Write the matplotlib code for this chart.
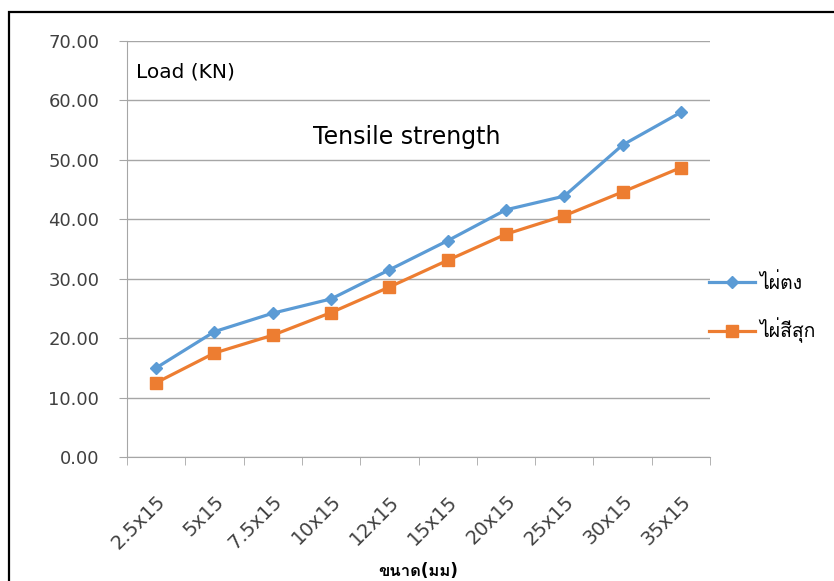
import matplotlib
matplotlib.use("Agg")
import matplotlib.pyplot as plt
from matplotlib import font_manager
from matplotlib.ft2font import FT2Font
from matplotlib.patches import Rectangle
import numpy as np

categories = ["2.5x15", "5x15", "7.5x15", "10x15", "12x15", "15x15",
              "20x15", "25x15", "30x15", "35x15"]
tong = [15.0, 21.1, 24.2, 26.6, 31.5, 36.4, 41.6, 43.9, 52.5, 58.0]
sisuk = [12.5, 17.5, 20.5, 24.3, 28.6, 33.1, 37.5, 40.6, 44.6, 48.7]
series_names = ["ไผ่ตง", "ไผ่สีสุก"]
y_ticks = [0, 10, 20, 30, 40, 50, 60, 70]


def find_thai_font():
    # look for any installed font that has Thai glyphs
    for f in font_manager.fontManager.ttflist:
        try:
            cmap = FT2Font(f.fname).get_charmap()
        except Exception:
            continue
        if 0x0E44 in cmap and 0x0E1C in cmap:
            return f.name
    return None


thai = find_thai_font()
fams = ["DejaVu Sans"]
if thai:
    fams = ["DejaVu Sans", thai]
plt.rcParams["font.family"] = fams

fig = plt.figure(figsize=(8.34, 5.81), dpi=100)
ax = fig.add_axes([0.1523, 0.2134, 0.6990, 0.7160])

x = np.arange(len(categories))
ax.plot(x, tong, color="#5B9BD5", lw=2.3, marker="D", ms=6.5, label=series_names[0])
ax.plot(x, sisuk, color="#ED7D31", lw=2.3, marker="s", ms=8, label=series_names[1])

ax.set_xlim(-0.5, len(categories) - 0.5)
ax.set_ylim(0, 70)
ax.set_yticks(y_ticks)
ax.set_yticklabels(["%.2f" % v for v in y_ticks])
ax.yaxis.grid(True, color="#A6A6A6", lw=1)
ax.set_axisbelow(True)

ax.set_xticks(x)
ax.set_xticklabels(categories, rotation=45, ha="right", rotation_mode="anchor")
ax.set_xticks(np.arange(len(categories) + 1) - 0.5, minor=True)
ax.tick_params(axis="x", which="major", length=0, pad=25, labelsize=14, labelcolor="#404040")
ax.tick_params(axis="x", which="minor", length=6, color="#A6A6A6")
ax.tick_params(axis="y", length=6, color="#A6A6A6", labelsize=13, labelcolor="#404040", pad=14)

for s in ["top", "right"]:
    ax.spines[s].set_visible(False)
for s in ["left", "bottom"]:
    ax.spines[s].set_color("#A6A6A6")

ax.text(0.016, 0.925, "Load (KN)", transform=ax.transAxes, fontsize=14.5, va="center")
ax.text(0.319, 0.77, "Tensile strength", transform=ax.transAxes, fontsize=17, va="center")

ax.set_xlabel("ขนาด(มม)", fontsize=12, fontweight="bold")
ax.xaxis.set_label_coords(0.5, -0.252)

ax.legend(loc="center left", bbox_to_anchor=(0.968, 0.358), frameon=False,
          fontsize=14, handlelength=2.4, labelspacing=1.3, handletextpad=0.2)

# outer frame of the pasted chart
fig.add_artist(Rectangle((8.5 / 834, -0.1), 1.2, 1.1 - 12.5 / 581,
                         transform=fig.transFigure, fill=False,
                         edgecolor="black", lw=1.6, clip_on=False))

fig.savefig("out.png", dpi=100)
